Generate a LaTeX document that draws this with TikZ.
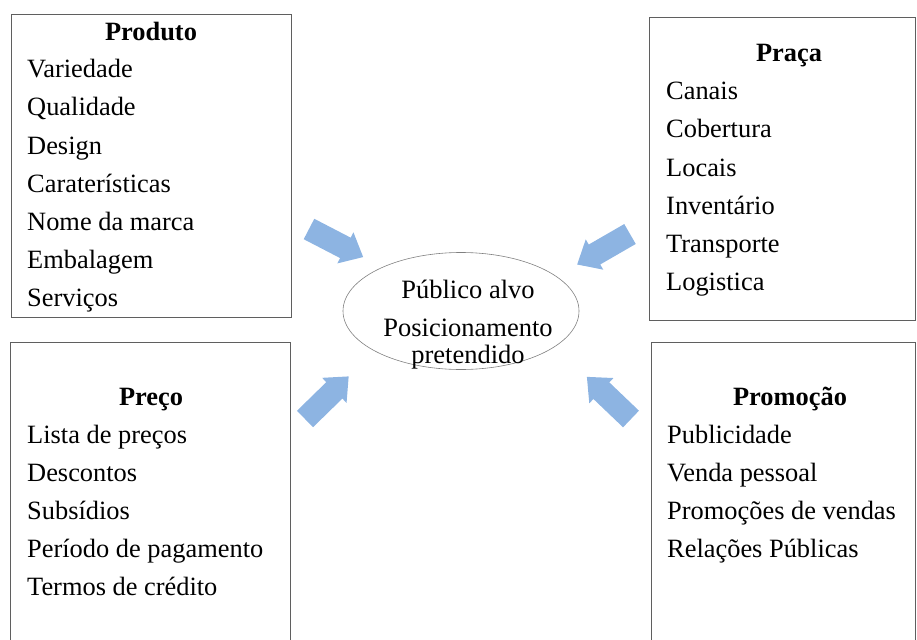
\documentclass[tikz,border=0pt]{standalone}
\usepackage{fontspec}
\setmainfont{Liberation Serif}
\usetikzlibrary{shapes.geometric}
\definecolor{arrowblue}{RGB}{141,180,226}
\definecolor{boxgray}{RGB}{95,95,95}
\begin{document}
\begin{tikzpicture}[x=1pt,y=-1pt,
  box/.style={draw=boxgray, line width=0.9pt, anchor=north west, inner sep=0pt, outer sep=0pt},
  item/.style={anchor=base west, inner sep=0pt, font=\fontsize{26.4}{30}\selectfont},
  title/.style={anchor=base, inner sep=0pt, font=\fontsize{26.4}{30}\selectfont\bfseries},
  ctext/.style={anchor=base, inner sep=0pt, font=\fontsize{26.5}{30}\selectfont},
  blockarrow/.pic={\fill[arrowblue] (0,-11.5) -- (41,-11.5) -- (41,-17.5) -- (61,0) -- (41,17.5) -- (41,11.5) -- (0,11.5) -- cycle;}]
\useasboundingbox (0,0) rectangle (917,639);
\clip (0,0) rectangle (917,639);

% boxes
\node[box, minimum width=280pt, minimum height=303pt] (produto) at (11,14) {};
\node[box, minimum width=266pt, minimum height=303pt] (praca) at (649,17) {};
\node[box, minimum width=280pt, minimum height=320pt] (preco) at (10,342) {};
\node[box, minimum width=264pt, minimum height=320pt] (promocao) at (651,342) {};

% centre ellipse
\node[ellipse, draw=gray, line width=0.6pt, minimum width=236pt, minimum height=117pt] (alvo) at (461,311) {};
\node[ctext] (t1) at (468,298) {Público alvo};
\node[ctext] (t2) at (468,336) {Posicionamento};
\node[ctext] (t3) at (468,363) {pretendido};

% Produto
\node[title] (hprod) at (151,41) {Produto};
\node[item] (p1) at (27,78) {Variedade};
\node[item] (p2) at (27,116) {Qualidade};
\node[item] (p3) at (27,154) {Design};
\node[item] (p4) at (27,192) {Caraterísticas};
\node[item] (p5) at (27,230) {Nome da marca};
\node[item] (p6) at (27,268) {Embalagem};
\node[item] (p7) at (27,306) {Serviços};

% Praça
\node[title] (hpraca) at (789,62) {Praça};
\node[item] (q1) at (666,100) {Canais};
\node[item] (q2) at (666,138) {Cobertura};
\node[item] (q3) at (666,176) {Locais};
\node[item] (q4) at (666,214) {Inventário};
\node[item] (q5) at (666,252) {Transporte};
\node[item] (q6) at (666,290) {Logistica};

% Preço
\node[title] (hpreco) at (151,405) {Preço};
\node[item] (r1) at (27,443) {Lista de preços};
\node[item] (r2) at (27,481) {Descontos};
\node[item] (r3) at (27,519) {Subsídios};
\node[item] (r4) at (27,557) {Período de pagamento};
\node[item] (r5) at (27,595) {Termos de crédito};

% Promoção
\node[title] (hpromo) at (790,405) {Promoção};
\node[item] (s1) at (667,443) {Publicidade};
\node[item] (s2) at (667,481) {Venda pessoal};
\node[item] (s3) at (667,519) {Promoções de vendas};
\node[item] (s4) at (667,557) {Relações Públicas};

% block arrows
\pic[rotate=-27.4] (a1) at (309,229) {blockarrow};
\pic[rotate=210] (a2) at (630,234) {blockarrow};
\pic[rotate=44.3] (a3) at (305,419) {blockarrow};
\pic[rotate=136.3] (a4) at (631,419) {blockarrow};
\end{tikzpicture}
\end{document}
